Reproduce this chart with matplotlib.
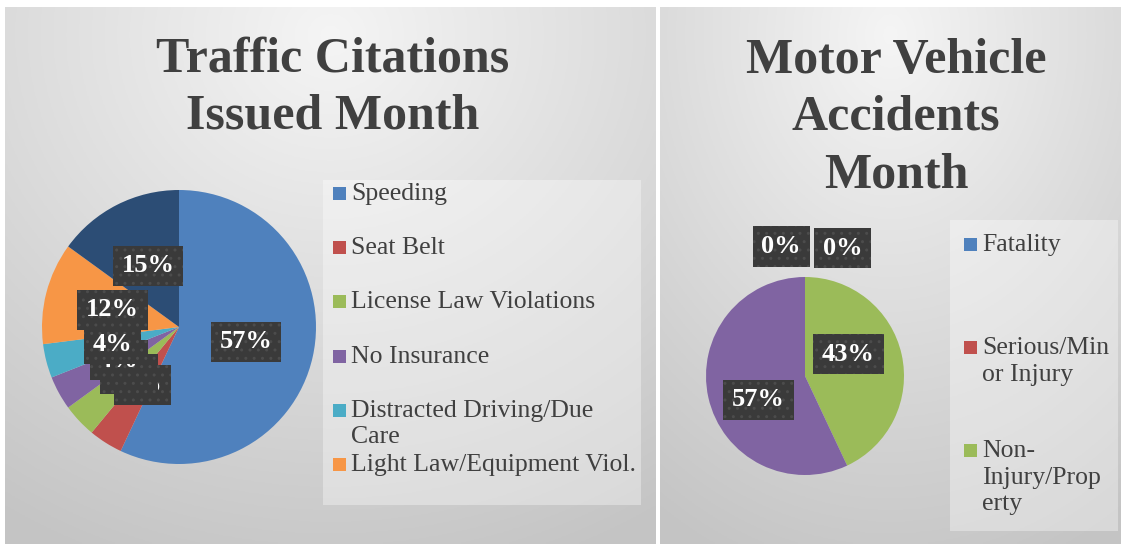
import numpy as np
import matplotlib
matplotlib.use('Agg')
import matplotlib.pyplot as plt
from matplotlib.patches import Rectangle

# chart data
citation_types = ['Speeding', 'Seat Belt', 'License Law Violations', 'No Insurance',
                  'Distracted Driving/Due\nCare', 'Light Law/Equipment Viol.', 'Other']
citation_pct = [57, 4, 4, 4, 4, 12, 15]
citation_colors = ['#4F81BD', '#C0504D', '#9BBB59', '#8064A2', '#4BACC6', '#F79646', '#2C4D75']

accident_types = ['Fatality', 'Serious/Min\nor Injury', 'Non-\nInjury/Prop\nerty', 'Other']
accident_pct = [0, 0, 43, 57]
accident_colors = ['#4F81BD', '#C0504D', '#9BBB59', '#8064A2']

W, H = 1121, 544
fig = plt.figure(figsize=(W / 100, H / 100), dpi=100)
fig.patch.set_facecolor('white')

SERIF = ['Liberation Serif', 'DejaVu Serif']
TXT = '#404040'


def fbox(x0, y0, x1, y1):
    # pixel box (top-left origin) -> figure fraction [left, bottom, width, height]
    return [x0 / W, 1 - y1 / H, (x1 - x0) / W, (y1 - y0) / H]


def fxy(x, y):
    return x / W, 1 - y / H


def panel_bg(x0, y0, x1, y1):
    ax = fig.add_axes(fbox(x0, y0, x1, y1))
    ax.set_axis_off()
    yy, xx = np.mgrid[0:1:200j, 0:1:200j]
    d = np.sqrt(((xx - 0.5) * 1.0) ** 2 + ((yy - 0.05) * 0.9) ** 2)
    v = 0.96 - 0.19 * np.clip(d / 0.95, 0, 1)
    ax.imshow(np.dstack([v, v, v]), extent=[0, 1, 0, 1], aspect='auto', origin='upper')
    return ax


panel_bg(5, 7, 656, 544)
panel_bg(660, 7, 1121, 544)

# legend backdrops
for (x0, y0, x1, y1) in [(323, 180, 641, 505), (950, 220, 1118, 531)]:
    fig.patches.append(Rectangle(fxy(x0, y1), (x1 - x0) / W, (y1 - y0) / H,
                                 transform=fig.transFigure, facecolor='white',
                                 alpha=0.35, edgecolor='none', zorder=1))

# titles
fig.text(*fxy(333, 88), 'Traffic Citations\nIssued Month', ha='center', va='center',
         fontsize=36, fontweight='bold', color=TXT, family=SERIF, linespacing=1.29)
fig.text(*fxy(896, 118), 'Motor Vehicle\nAccidents\nMonth', ha='center', va='center',
         fontsize=36, fontweight='bold', color=TXT, family=SERIF, linespacing=1.32)

label_box = dict(boxstyle='square,pad=0.33', facecolor='#3A3A3A', edgecolor='#4C4C4C',
                 linewidth=0, hatch='..')


def draw_pie(box, values, colors):
    ax = fig.add_axes(fbox(*box))
    wedges, texts, autotexts = ax.pie(values, colors=colors, startangle=90, counterclock=False,
                                      autopct='%1.0f%%', pctdistance=0.5,
                                      wedgeprops=dict(linewidth=0),
                                      textprops=dict(color='white', fontsize=19,
                                                     fontweight='bold', family=SERIF))
    for t in autotexts:
        t.set_bbox(label_box)
    ax.set_aspect('equal')
    ax.set_xlim(-1, 1)
    ax.set_ylim(-1, 1)
    return ax, autotexts


# left pie: centre (179, 327), radius 137
draw_pie((42, 190, 316, 464), citation_pct, citation_colors)
# right pie: centre (805, 376), radius 99
ax_r, at_r = draw_pie((706, 277, 904, 475), accident_pct, accident_colors)
at_r[0].set_position((-0.24, 1.31))
at_r[1].set_position((0.38, 1.29))
at_r[2].set_position((0.44, 0.22))
at_r[3].set_position((-0.47, -0.24))


def draw_legend(names, colors, x, y0, step):
    for i, (name, c) in enumerate(zip(names, colors)):
        y = y0 + i * step
        fig.patches.append(Rectangle(fxy(x, y + 7), 13 / W, 13 / H, transform=fig.transFigure,
                                     facecolor=c, edgecolor='none', zorder=3))
        fig.text(*fxy(x + 18, y - 10), name, ha='left', va='top', fontsize=18.5,
                 color=TXT, family=SERIF, linespacing=1.27, zorder=3)


draw_legend(citation_types[:6], citation_colors[:6], 333, 193, 54.2)
draw_legend(accident_types[:3], accident_colors[:3], 964, 244, 103)

fig.savefig('out.png', dpi=100)
